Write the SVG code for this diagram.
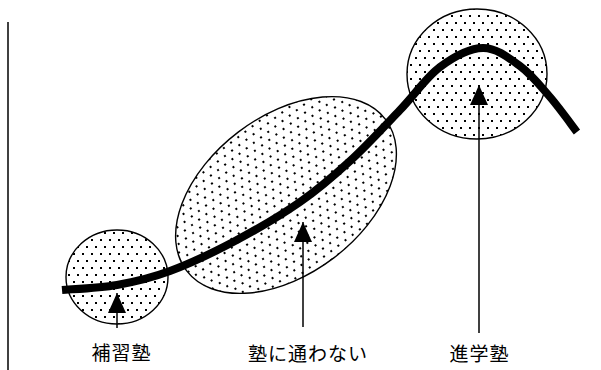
<svg xmlns="http://www.w3.org/2000/svg" width="601" height="370" viewBox="0 0 601 370">
<style>
.blob{fill:url(#dots);stroke:#000;stroke-width:1.4}
.lbl{font-family:"Noto Sans CJK JP","Noto Sans CJK SC",sans-serif;font-size:19px;fill:#000;text-anchor:middle;letter-spacing:1px}
.arr{stroke:#000;stroke-width:1.5;fill:none;marker-end:url(#ah)}
</style>
<defs>
<pattern id="dots" width="9" height="14" patternUnits="userSpaceOnUse">
<rect width="9" height="14" fill="#fff"/>
<rect x="1" y="1" width="2" height="2" fill="#000"/>
<rect x="5" y="8" width="2" height="2" fill="#000"/>
</pattern>
<marker id="ah" markerWidth="20" markerHeight="20" viewBox="0 -10 20 20" refX="20" refY="0" orient="auto" markerUnits="userSpaceOnUse">
<path d="M0,-9 L20,0 L0,9 z" fill="#000"/>
</marker>
</defs>
<rect width="601" height="370" fill="#fff"/>
<line x1="8" y1="22" x2="8" y2="370" stroke="#000" stroke-width="1.5"/>
<g id="hoshu">
<ellipse class="blob" cx="117" cy="277" rx="51" ry="47"/>
</g>
<g id="kayowanai">
<ellipse class="blob" cx="0" cy="0" rx="125" ry="79" transform="translate(286,195) rotate(-37.25)"/>
</g>
<g id="shingaku">
<ellipse class="blob" cx="477" cy="74" rx="70" ry="65"/>
</g>
<g id="curve">
<path d="M62,290 C71.2,289.2 99,288.2 117,285 C135,281.8 150.3,278.3 170,271 C189.7,263.7 213.3,252.5 235,241 C256.7,229.5 280.8,215.3 300,202 C319.2,188.7 333.3,176.3 350,161 C366.7,145.7 385,125.7 400,110 C415,94.3 426.2,77.3 440,67 C453.8,56.7 469.7,48.2 483,48 C496.3,47.8 508.8,57.8 520,66 C531.2,74.2 540.5,86 550,97 C559.5,108 572.5,126.2 577,132" fill="none" stroke="#000" stroke-width="8"/>
</g>
<g id="connectors">
<line class="arr" x1="117" y1="328" x2="117" y2="293"/>
<line class="arr" x1="303" y1="327" x2="303" y2="222"/>
<line class="arr" x1="479" y1="333" x2="479" y2="85"/>
</g>
<g id="labels">
<text class="lbl" x="121.5" y="360">補習塾</text>
<text class="lbl" x="308" y="361">塾に通わない</text>
<text class="lbl" x="479.5" y="361">進学塾</text>
</g>
</svg>
